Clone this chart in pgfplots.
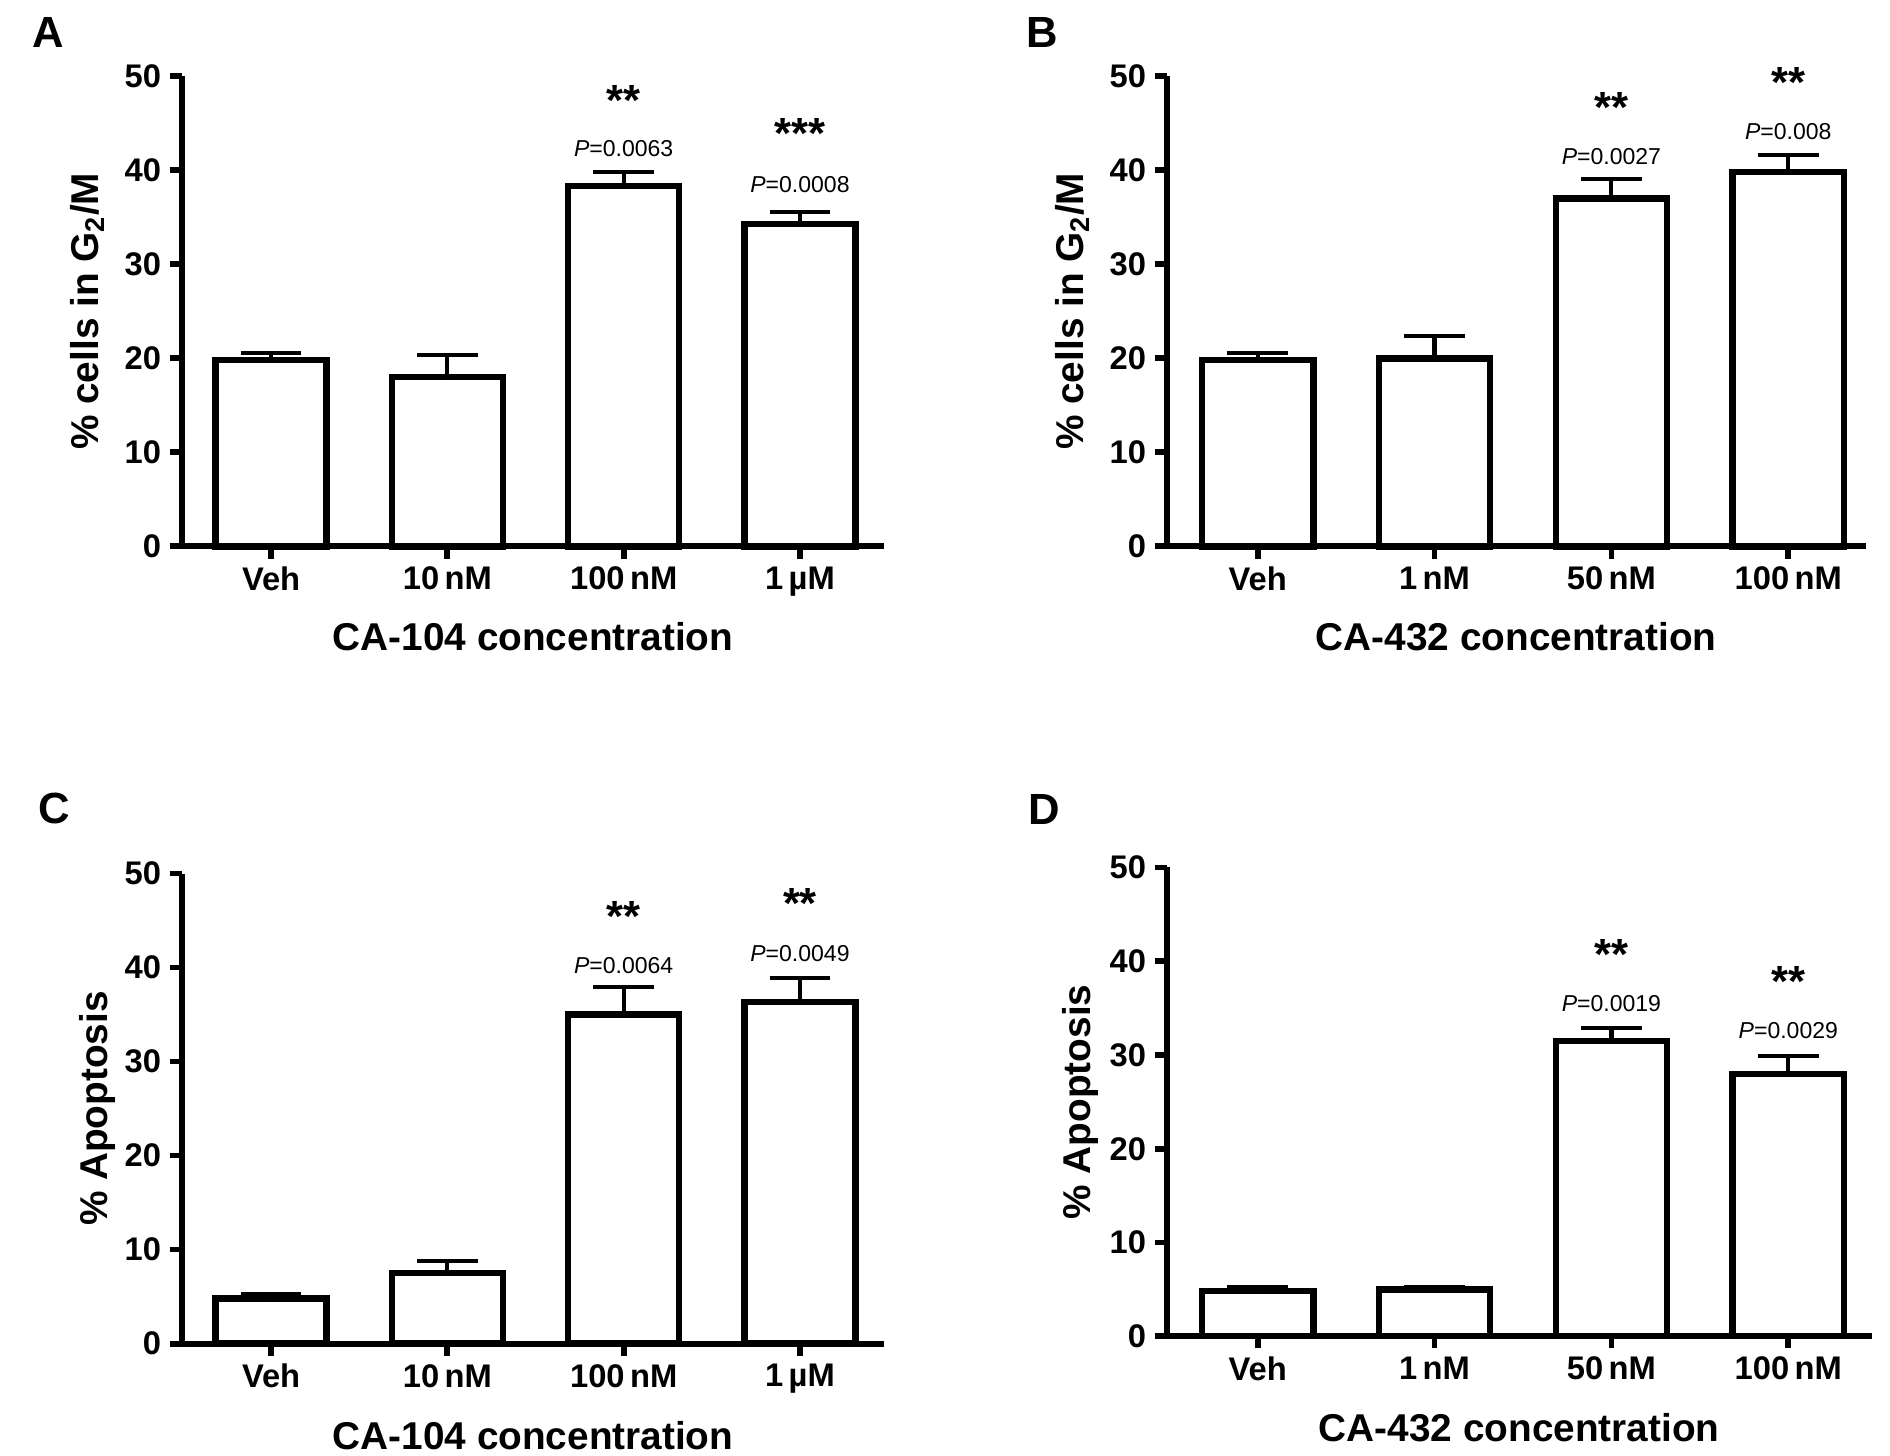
\documentclass[border=0pt]{standalone}
\usepackage{fontspec}
\setmainfont{Liberation Sans}
\usepackage{pgfplots}
\pgfplotsset{compat=1.18}
\pgfplotsset{
  gp/.style={
    scale only axis,
    anchor=south west,
    ymin=0, ymax=50,
    ytick={0,10,20,30,40,50},
    xtick={0,1,2,3},
    axis lines*=left,
    axis line style={-, line width=2.4pt},
    x axis line style={shorten <=-3.5pt},
    tick style={line width=2.4pt, black},
    major tick length=5pt,
    tick align=outside,
    every tick label/.append style={font=\fontsize{13.5}{14}\selectfont\bfseries},
    /pgf/number format/assume math mode=true,
    label style={font=\fontsize{16}{18}\selectfont\bfseries},
    clip=false,
  },
  gpbar/.style={
    ybar, bar width=0.63, fill=white, draw=black, line width=2.6pt,
    error bars/.cd, y dir=plus, y explicit,
    error bar style={line width=1.7pt},
    error mark options={rotate=90, mark size=12.5pt, line width=1.7pt},
  },
}
\newcommand{\pv}[1]{{\fontsize{9.5}{10}\selectfont\textit{P}=#1}}
\newcommand{\st}[1]{{\fontsize{18}{18}\selectfont\bfseries #1}}
\begin{document}
\begin{tikzpicture}
\path[use as bounding box] (0,0) rectangle (780pt,600.5pt);
\node[font=\fontsize{18}{18}\selectfont\bfseries] at (20pt,587pt) {A};
\node[font=\fontsize{18}{18}\selectfont\bfseries] at (430pt,587pt) {B};
\node[font=\fontsize{18}{18}\selectfont\bfseries] at (22.5pt,267pt) {C};
\node[font=\fontsize{18}{18}\selectfont\bfseries] at (431pt,266.5pt) {D};

% Panel A
\begin{axis}[gp, at={(75pt,375pt)}, width=290pt, height=194pt,
  xmin=-0.507, xmax=3.479,
  xticklabels={Veh, 10\,nM, 100\,nM, 1\,µM},
  ylabel={\% cells in G\textsubscript{2}/M},
  xlabel={CA-104 concentration},
  ylabel style={at={(axis description cs:-0.134,0.5)}, anchor=center},
  xlabel style={at={(axis description cs:0.5,-0.191)}, anchor=center},
]
\addplot[gpbar] coordinates {
  (0,19.8) +- (0,0.8)
  (1,18.0) +- (0,2.4)
  (2,38.3) +- (0,1.5)
  (3,34.3) +- (0,1.3)
};
\node at (axis cs:2,47.4) {\st{**}};
\node at (axis cs:2,42.3) {\pv{0.0063}};
\node at (axis cs:3,43.9) {\st{***}};
\node at (axis cs:3,38.5) {\pv{0.0008}};
\end{axis}

% Panel B
\begin{axis}[gp, at={(481.5pt,375pt)}, width=288.5pt, height=194pt,
  xmin=-0.514, xmax=3.438,
  xticklabels={Veh, 1\,nM, 50\,nM, 100\,nM},
  ylabel={\% cells in G\textsubscript{2}/M},
  xlabel={CA-432 concentration},
  ylabel style={at={(axis description cs:-0.135,0.5)}, anchor=center},
  xlabel style={at={(axis description cs:0.5,-0.191)}, anchor=center},
]
\addplot[gpbar] coordinates {
  (0,19.8) +- (0,0.8)
  (1,20.0) +- (0,2.4)
  (2,37.0) +- (0,2.1)
  (3,39.8) +- (0,1.8)
};
\node at (axis cs:2,46.7) {\st{**}};
\node at (axis cs:2,41.5) {\pv{0.0027}};
\node at (axis cs:3,49.3) {\st{**}};
\node at (axis cs:3,44.1) {\pv{0.008}};
\end{axis}

% Panel C
\begin{axis}[gp, at={(75pt,46pt)}, width=290pt, height=194pt,
  xmin=-0.507, xmax=3.479,
  xticklabels={Veh, 10\,nM, 100\,nM, 1\,µM},
  ylabel={\% Apoptosis},
  xlabel={CA-104 concentration},
  ylabel style={at={(axis description cs:-0.12,0.5)}, anchor=center},
  xlabel style={at={(axis description cs:0.5,-0.196)}, anchor=center},
]
\addplot[gpbar] coordinates {
  (0,4.8) +- (0,0.5)
  (1,7.5) +- (0,1.3)
  (2,35.0) +- (0,2.9)
  (3,36.3) +- (0,2.6)
};
\node at (axis cs:2,45.4) {\st{**}};
\node at (axis cs:2,40.2) {\pv{0.0064}};
\node at (axis cs:3,46.8) {\st{**}};
\node at (axis cs:3,41.5) {\pv{0.0049}};
\end{axis}

% Panel D
\begin{axis}[gp, at={(481.5pt,49pt)}, width=291pt, height=193.5pt,
  xmin=-0.514, xmax=3.472,
  xticklabels={Veh, 1\,nM, 50\,nM, 100\,nM},
  ylabel={\% Apoptosis},
  xlabel={CA-432 concentration},
  ylabel style={at={(axis description cs:-0.122,0.5)}, anchor=center},
  xlabel style={at={(axis description cs:0.5,-0.194)}, anchor=center},
]
\addplot[gpbar] coordinates {
  (0,4.8) +- (0,0.5)
  (1,5.0) +- (0,0.3)
  (2,31.5) +- (0,1.4)
  (3,28.0) +- (0,1.9)
};
\node at (axis cs:2,40.7) {\st{**}};
\node at (axis cs:2,35.5) {\pv{0.0019}};
\node at (axis cs:3,37.8) {\st{**}};
\node at (axis cs:3,32.6) {\pv{0.0029}};
\end{axis}
\end{tikzpicture}
\end{document}
